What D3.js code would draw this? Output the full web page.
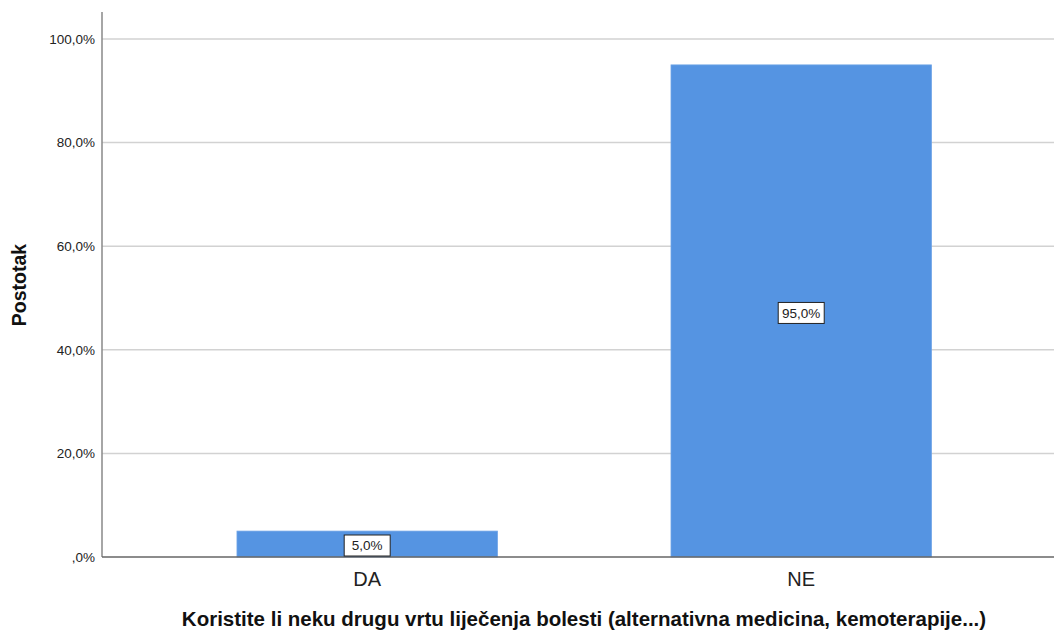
<!DOCTYPE html>
<html><head><meta charset="utf-8">
<script src="https://cdn.jsdelivr.net/npm/d3@7"></script>
<style>body{margin:0;background:#fff}svg{display:block;font-family:Arial,"Liberation Sans",sans-serif}</style>
</head><body><svg id="c" width="1054" height="630"></svg>
<script>
const categories = ["DA", "NE"];
const values = [5.0, 95.0];
const yTicks = [0, 20, 40, 60, 80, 100];
const yTitle = "Postotak";
const xTitle = "Koristite li neku drugu vrtu liječenja bolesti (alternativna medicina, kemoterapije...)";

const svg = d3.select("#c");
const plotLeft = 102, plotTop = 12, plotBottom = 557;
const fmt = v => (v === 0 ? ",0%" : d3.format(".1f")(v).replace(".", ",") + "%");

const y = d3.scaleLinear().domain([0, 100]).range([plotBottom, 39]);
const x = d3.scaleBand().domain(categories).range([plotLeft, 1066.4]).paddingInner(0.4).paddingOuter(0.311);

// gridlines
svg.append("g").selectAll("line").data(yTicks.filter(t => t > 0)).join("line")
  .attr("x1", plotLeft).attr("x2", 1054).attr("y1", d => y(d)).attr("y2", d => y(d))
  .attr("stroke", "#d2d2d2").attr("stroke-width", 1.5);

// bars
svg.append("g").selectAll("rect").data(values).join("rect")
  .attr("x", (d, i) => x(categories[i])).attr("width", x.bandwidth())
  .attr("y", d => y(d)).attr("height", d => y(0) - y(d))
  .attr("fill", "#5594e2").attr("stroke", "#6ea3e6").attr("stroke-width", 0.8);

// axes lines
svg.append("line").attr("x1", plotLeft).attr("x2", plotLeft).attr("y1", plotTop).attr("y2", plotBottom)
  .attr("stroke", "#888").attr("stroke-width", 1.5);
svg.append("line").attr("x1", plotLeft).attr("x2", 1054).attr("y1", plotBottom).attr("y2", plotBottom)
  .attr("stroke", "#666").attr("stroke-width", 1.3);

// y tick labels
svg.append("g").selectAll("text").data(yTicks).join("text")
  .attr("x", 95).attr("y", d => y(d)).attr("dy", "0.35em").attr("text-anchor", "end")
  .attr("font-size", 13.5).attr("fill", "#222").text(fmt);

// x tick labels
svg.append("g").selectAll("text").data(categories).join("text")
  .attr("x", d => x(d) + x.bandwidth() / 2).attr("y", 586).attr("text-anchor", "middle")
  .attr("font-size", 20).attr("fill", "#222").text(d => d);

// data labels
const lab = svg.append("g").selectAll("g").data(values).join("g")
  .attr("transform", (d, i) => {
    const cx = x(categories[i]) + x.bandwidth() / 2;
    const cy = d < 10 ? y(0) - 11.5 : (y(d) + y(0)) / 2 + 2;
    return `translate(${cx},${cy})`;
  });
lab.append("rect").attr("x", -23).attr("y", -10.5).attr("width", 46).attr("height", 21)
  .attr("fill", "#fff").attr("stroke", "#222").attr("stroke-width", 1);
lab.append("text").attr("text-anchor", "middle").attr("dy", "0.36em").attr("font-size", 13.5)
  .attr("fill", "#222").text(fmt);

// titles
svg.append("text").attr("transform", "translate(26,285) rotate(-90)").attr("text-anchor", "middle")
  .attr("font-size", 19.5).attr("font-weight", "bold").attr("fill", "#111").text(yTitle);
svg.append("text").attr("x", 584).attr("y", 626).attr("text-anchor", "middle")
  .attr("font-size", 20.5).attr("font-weight", "bold").attr("fill", "#111").text(xTitle);
</script></body></html>
